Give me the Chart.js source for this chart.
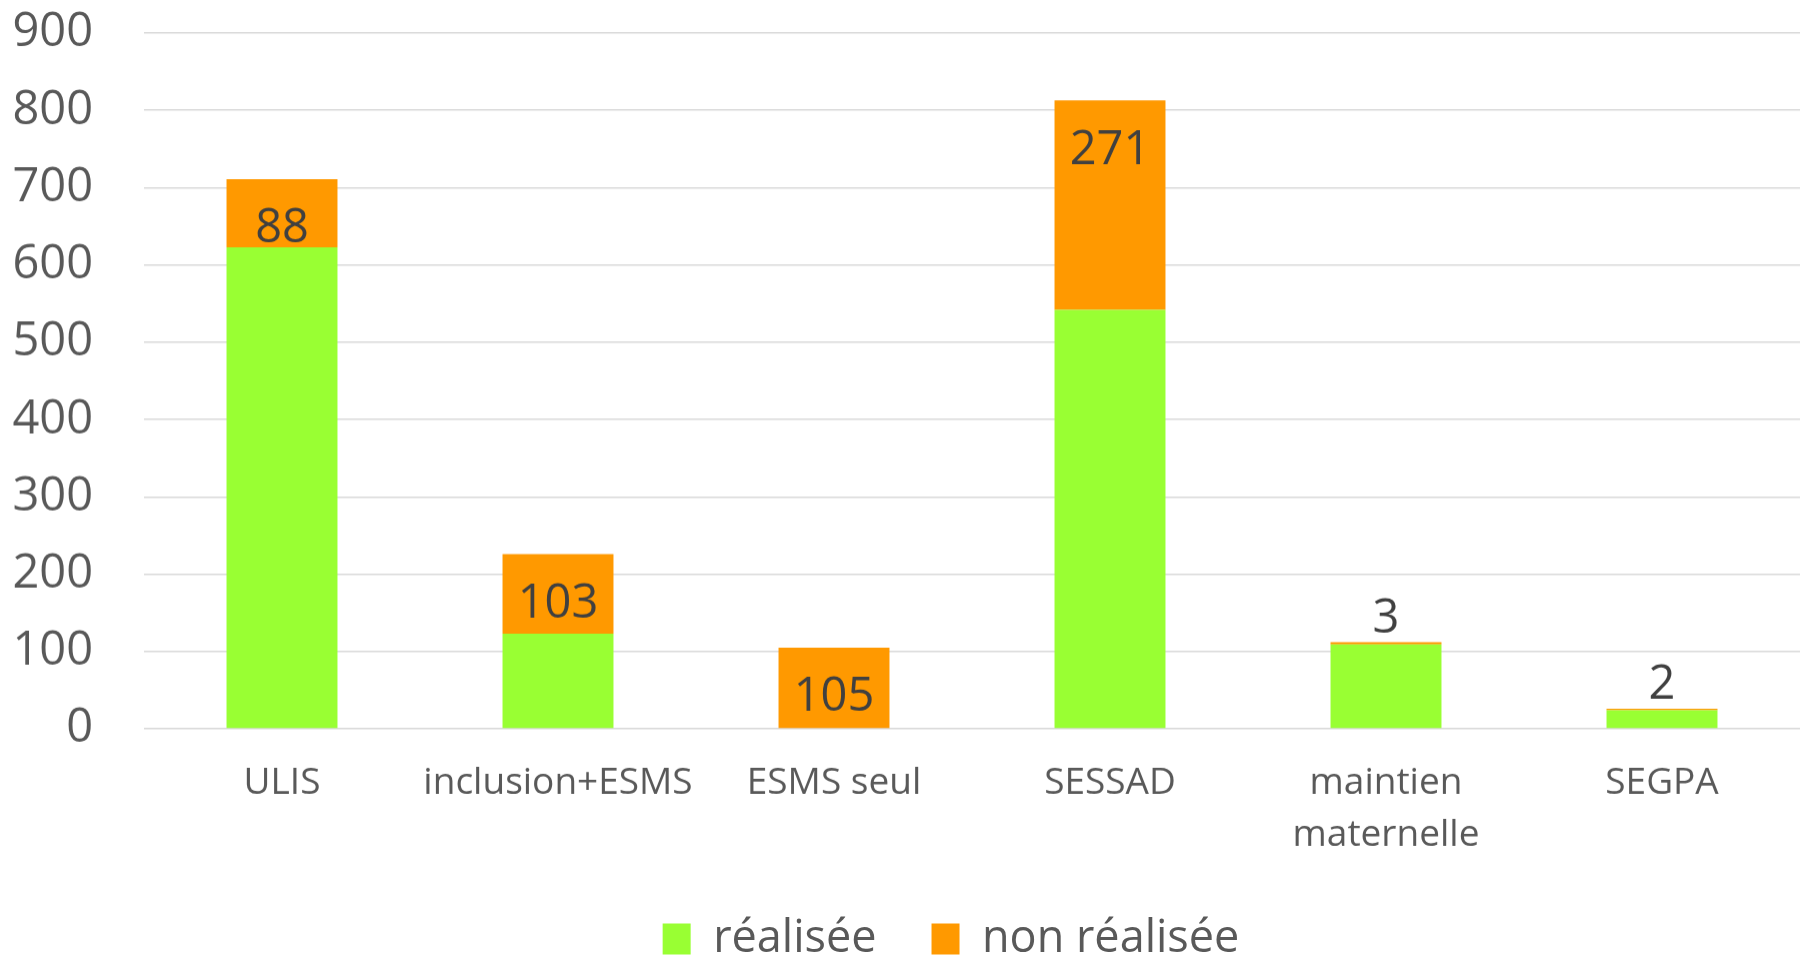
<!DOCTYPE html>
<html>
<head>
<meta charset="utf-8">
<script src="https://cdn.jsdelivr.net/npm/chart.js@4/dist/chart.umd.min.js"></script>
<style>
    html, body { margin: 0; padding: 0; background: #fff; overflow: hidden; }
    #wrap { width: 1802px; height: 970.5px; }
</style>
</head>
<body>
<div id="wrap"><canvas id="chart"></canvas></div>
<script>
const categories = ['ULIS', 'inclusion+ESMS', 'ESMS seul', 'SESSAD', ['maintien', 'maternelle'], 'SEGPA'];
const realisee = [623, 123, 0, 542, 109, 24];
const nonRealisee = [88, 103, 105, 271, 3, 2];
const yTicks = [0, 100, 200, 300, 400, 500, 600, 700, 800, 900];

const FONT = "'Open Sans', 'Noto Sans', sans-serif";

// value labels of the "non réalisée" segment, like Excel's inside end
const valueLabels = {
    id: 'valueLabels',
    afterLayout(chart) {
        // nudge legend a bit left, Excel centres it differently
        chart.legend.left -= 21;
        chart.legend.right -= 21;
    },
    afterDatasetsDraw(chart) {
        const { ctx } = chart;
        const meta = chart.getDatasetMeta(1);
        ctx.save();
        ctx.font = `47px ${FONT}`;
        ctx.fillStyle = '#404040';
        ctx.textAlign = 'center';
        ctx.textBaseline = 'middle';
        meta.data.forEach((bar, i) => {
            const { x, y, base } = bar.getProps(['x', 'y', 'base'], true);
            const h = base - y;
            const ty = h > 50 ? y + 50 : y - 23;
            ctx.fillText(String(nonRealisee[i]), x, ty);
        });
        ctx.restore();
    }
};

new Chart(document.getElementById('chart'), {
    type: 'bar',
    data: {
        labels: categories,
        datasets: [
            { label: 'réalisée', data: realisee, backgroundColor: '#99FF33', barPercentage: 0.402, categoryPercentage: 1 },
            { label: 'non réalisée', data: nonRealisee, backgroundColor: '#FF9900', barPercentage: 0.402, categoryPercentage: 1 }
        ]
    },
    options: {
        responsive: true,
        maintainAspectRatio: false,
        animation: false,
        layout: {
            autoPadding: false,
            padding: { top: 33, right: 2, left: 0, bottom: 0 }
        },
        scales: {
            x: {
                stacked: true,
                grid: { display: false, drawTicks: false },
                border: { display: false },
                ticks: {
                    color: '#595959',
                    font: { family: FONT, size: 37, lineHeight: 1.4 },
                    padding: 29,
                    maxRotation: 0,
                    autoSkip: false
                },
                afterFit(scale) { scale.height = 132.5; }
            },
            y: {
                stacked: true,
                min: 0,
                max: 900,
                afterBuildTicks(scale) { scale.ticks = yTicks.map(v => ({ value: v })); },
                grid: { color: '#d9d9d9', lineWidth: 1.5, drawTicks: false },
                border: { display: false },
                ticks: {
                    color: '#595959',
                    font: { family: FONT, size: 47 },
                    padding: 51
                },
                afterFit(scale) {
                    scale.width = 144;
                    scale.paddingTop = 0;
                    scale.paddingBottom = 0;
                }
            }
        },
        plugins: {
            legend: {
                position: 'bottom',
                fullSize: false,
                labels: {
                    color: '#595959',
                    font: { family: FONT, size: 45 },
                    boxWidth: 28,
                    boxHeight: 31,
                    padding: 55
                }
            },
            tooltip: { enabled: false }
        }
    },
    plugins: [valueLabels]
});
</script>
</body>
</html>
